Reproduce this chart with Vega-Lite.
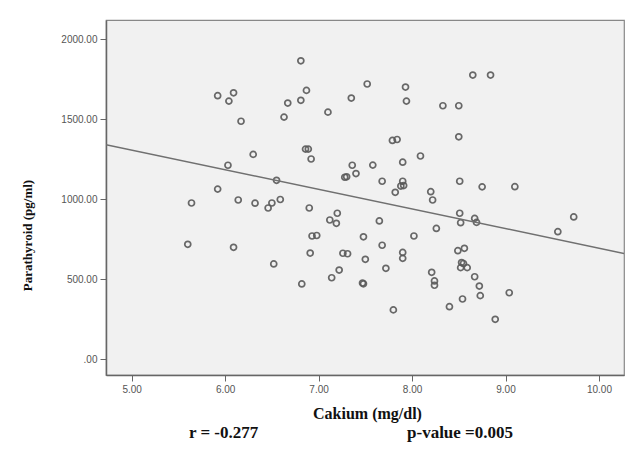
{
  "$schema": "https://vega.github.io/schema/vega-lite/v6.json",
  "width": 518,
  "height": 355,
  "autosize": {"type": "none"},
  "padding": {"left": 106, "top": 20, "right": 17, "bottom": 84},
  "background": "white",
  "config": {
    "view": {"fill": "#f1f1f1", "stroke": "#888888", "strokeWidth": 1.2},
    "axis": {
      "grid": false,
      "domainColor": "#666666",
      "domainWidth": 1.5,
      "tickColor": "#666666",
      "tickSize": 6,
      "labelFont": "Liberation Sans",
      "labelFontSize": 10,
      "labelColor": "#555555",
      "titleFont": "Liberation Serif",
      "titleFontWeight": "bold",
      "titleFontSize": 13,
      "titleColor": "#111111"
    }
  },
  "title": {
    "text": "r = -0.277\u00a0\u00a0\u00a0\u00a0\u00a0\u00a0\u00a0\u00a0\u00a0\u00a0\u00a0\u00a0\u00a0\u00a0\u00a0\u00a0\u00a0\u00a0\u00a0\u00a0\u00a0\u00a0\u00a0\u00a0\u00a0\u00a0\u00a0\u00a0\u00a0\u00a0\u00a0\u00a0\u00a0\u00a0\u00a0p-value =0.005",
    "orient": "bottom",
    "anchor": "middle",
    "font": "Liberation Serif",
    "fontWeight": "bold",
    "fontSize": 17,
    "color": "#111111",
    "offset": 4,
    "dx": -14
  },
  "datasets": {
    "points": [
      {"calcium": 6.81, "pth": 1864}, {"calcium": 5.92, "pth": 1646}, {"calcium": 6.09, "pth": 1664},
      {"calcium": 6.04, "pth": 1612}, {"calcium": 6.17, "pth": 1486}, {"calcium": 6.87, "pth": 1679},
      {"calcium": 6.67, "pth": 1600}, {"calcium": 6.81, "pth": 1617}, {"calcium": 6.63, "pth": 1512},
      {"calcium": 6.86, "pth": 1312}, {"calcium": 6.89, "pth": 1312}, {"calcium": 6.92, "pth": 1250},
      {"calcium": 6.30, "pth": 1279}, {"calcium": 6.03, "pth": 1211}, {"calcium": 6.55, "pth": 1117},
      {"calcium": 5.92, "pth": 1062}, {"calcium": 5.64, "pth": 975}, {"calcium": 6.14, "pth": 994},
      {"calcium": 6.32, "pth": 974}, {"calcium": 6.50, "pth": 975}, {"calcium": 6.59, "pth": 997},
      {"calcium": 6.46, "pth": 944}, {"calcium": 6.90, "pth": 944}, {"calcium": 5.60, "pth": 717},
      {"calcium": 6.09, "pth": 698}, {"calcium": 6.52, "pth": 594}, {"calcium": 6.82, "pth": 469},
      {"calcium": 6.93, "pth": 769}, {"calcium": 6.98, "pth": 772}, {"calcium": 6.91, "pth": 662},
      {"calcium": 7.52, "pth": 1719}, {"calcium": 7.93, "pth": 1700}, {"calcium": 7.35, "pth": 1631},
      {"calcium": 7.94, "pth": 1612}, {"calcium": 7.10, "pth": 1543}, {"calcium": 8.33, "pth": 1583},
      {"calcium": 8.50, "pth": 1583}, {"calcium": 8.65, "pth": 1775}, {"calcium": 8.84, "pth": 1775},
      {"calcium": 7.79, "pth": 1366}, {"calcium": 7.84, "pth": 1372}, {"calcium": 8.50, "pth": 1389},
      {"calcium": 8.09, "pth": 1269}, {"calcium": 7.36, "pth": 1211}, {"calcium": 7.58, "pth": 1212},
      {"calcium": 7.90, "pth": 1230}, {"calcium": 7.28, "pth": 1136}, {"calcium": 7.30, "pth": 1139},
      {"calcium": 7.40, "pth": 1159}, {"calcium": 7.68, "pth": 1111}, {"calcium": 7.90, "pth": 1111},
      {"calcium": 7.88, "pth": 1081}, {"calcium": 7.91, "pth": 1084}, {"calcium": 7.82, "pth": 1042},
      {"calcium": 8.20, "pth": 1046}, {"calcium": 8.22, "pth": 994}, {"calcium": 8.51, "pth": 1111},
      {"calcium": 8.75, "pth": 1076}, {"calcium": 9.10, "pth": 1077}, {"calcium": 7.20, "pth": 911},
      {"calcium": 7.12, "pth": 869}, {"calcium": 7.19, "pth": 848}, {"calcium": 7.65, "pth": 863},
      {"calcium": 8.51, "pth": 911}, {"calcium": 8.52, "pth": 852}, {"calcium": 8.67, "pth": 879},
      {"calcium": 8.69, "pth": 854}, {"calcium": 9.73, "pth": 888}, {"calcium": 9.56, "pth": 796},
      {"calcium": 7.48, "pth": 764}, {"calcium": 8.02, "pth": 769}, {"calcium": 8.26, "pth": 816},
      {"calcium": 7.68, "pth": 711}, {"calcium": 7.26, "pth": 661}, {"calcium": 7.31, "pth": 658},
      {"calcium": 7.50, "pth": 623}, {"calcium": 7.90, "pth": 666}, {"calcium": 7.90, "pth": 629},
      {"calcium": 8.49, "pth": 677}, {"calcium": 8.56, "pth": 692}, {"calcium": 8.53, "pth": 603},
      {"calcium": 8.55, "pth": 597}, {"calcium": 8.52, "pth": 571}, {"calcium": 8.59, "pth": 571},
      {"calcium": 8.67, "pth": 514}, {"calcium": 8.72, "pth": 456}, {"calcium": 8.73, "pth": 396},
      {"calcium": 9.04, "pth": 414}, {"calcium": 8.54, "pth": 375}, {"calcium": 8.40, "pth": 327},
      {"calcium": 8.89, "pth": 248}, {"calcium": 7.80, "pth": 307}, {"calcium": 7.72, "pth": 567},
      {"calcium": 7.22, "pth": 556}, {"calcium": 7.14, "pth": 508}, {"calcium": 7.47, "pth": 475},
      {"calcium": 7.48, "pth": 470}, {"calcium": 8.21, "pth": 542}, {"calcium": 8.24, "pth": 488},
      {"calcium": 8.24, "pth": 461}
    ],
    "fit": [
      {"calcium": 4.725, "pth": 1339},
      {"calcium": 10.268, "pth": 660}
    ]
  },
  "encoding": {
    "x": {
      "field": "calcium",
      "type": "quantitative",
      "scale": {"domain": [4.725, 10.268], "nice": false, "zero": false},
      "axis": {
        "title": "Cakium (mg/dl)",
        "titleFontSize": 16,
        "values": [5, 6, 7, 8, 9, 10],
        "format": ".2f",
        "labelPadding": 3,
        "titlePadding": 11,
        "titleX": 261
      }
    },
    "y": {
      "field": "pth",
      "type": "quantitative",
      "scale": {"domain": [-100, 2119], "nice": false, "zero": false},
      "axis": {
        "title": "Parathyroid (pg/ml)",
        "values": [0, 500, 1000, 1500, 2000],
        "labelExpr": "datum.value == 0 ? '.00' : format(datum.value, '.2f')",
        "labelPadding": 3,
        "titlePadding": 26,
        "titleY": 215
      }
    }
  },
  "layer": [
    {
      "data": {"name": "points"},
      "mark": {"type": "point", "shape": "circle", "filled": false, "size": 36, "stroke": "#5a5a5a", "strokeWidth": 1.7, "opacity": 0.9}
    },
    {
      "data": {"name": "fit"},
      "mark": {"type": "line", "color": "#707070", "strokeWidth": 1.5, "clip": true}
    }
  ]
}
